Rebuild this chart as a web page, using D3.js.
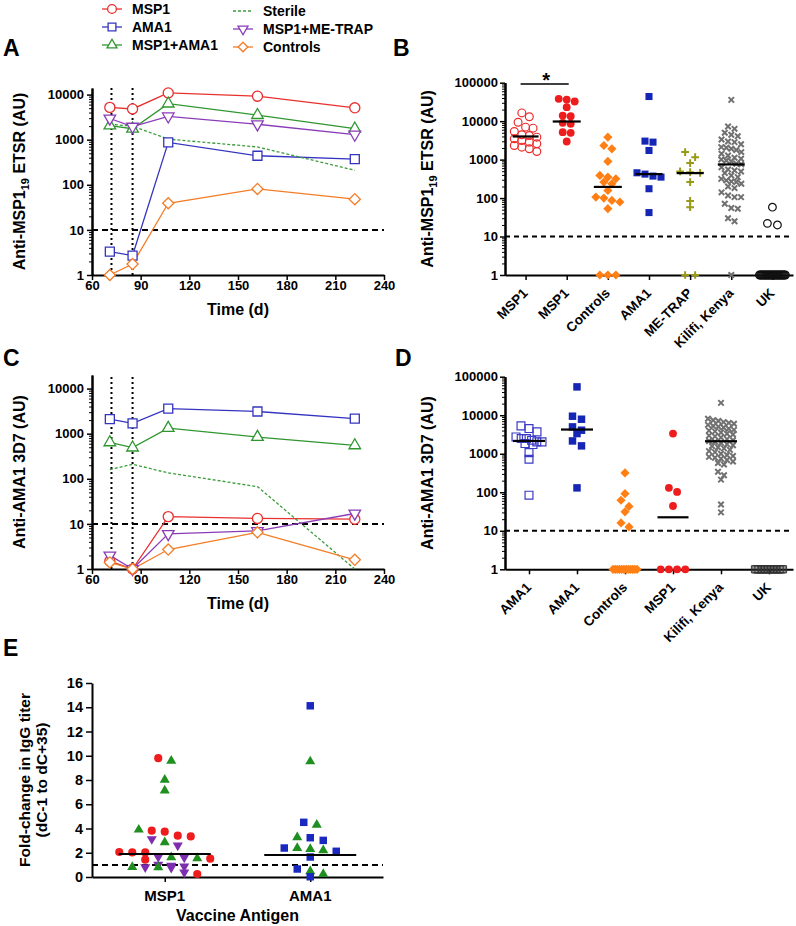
<!DOCTYPE html>
<html>
<head>
<meta charset="utf-8">
<script src="https://cdn.jsdelivr.net/npm/d3@7"></script>
<style>
body { margin: 0; background: #fff; }
svg { font-family: "Liberation Sans", Arial, Helvetica, sans-serif; font-weight: bold; }
</style>
</head>
<body>
<script>
// ---------- data ----------
const days = [71, 85, 107, 162, 222];
const challengeDays = [72, 85];
const courseNames = ["MSP1", "AMA1", "MSP1+AMA1", "Sterile", "MSP1+ME-TRAP", "Controls"];
const cutoffAU = 10;
const cutoffFold = 1;

// A: anti-MSP1-19 ETSR over time (AU)
const aMSP1 = [5200, 4800, 10900, 9200, 5100];
const aAMA1 = [3.3, 2.7, 870, 440, 370];
const aMSP1AMA1 = [2050, 1750, 6300, 3500, 1750];
const aSterile = [2200, 2000, 1030, 690, 210];
const aMETRAP = [2950, 1950, 3300, 2200, 1300];
const aControls = [1, 1.75, 39, 81, 48];

// C: anti-AMA1 3D7 over time (AU)
const cMSP1 = [1.5, 1, 14.5, 13.2, 12.7];
const cAMA1 = [2100, 1700, 3600, 3100, 2150];
const cMSP1AMA1 = [640, 490, 1330, 840, 550];
const cSterile = [160, 210, 135, 67, 1];
const cMETRAP = [2.0, 1, 6.0, 7.0, 17];
const cControls = [1.4, 1, 2.7, 6.5, 1.6];

// B: anti-MSP1-19 by group
const bCats = ["MSP1", "MSP1", "Controls", "AMA1", "ME-TRAP", "Kilifi, Kenya", "UK"];
const bMSP1open = [16400, 13000, 9400, 6980, 6580, 5390, 4420, 4250, 3840, 3480, 3150, 2850, 2580, 2330, 2110, 1910, 1630];
const bMSP1filled = [38000, 36500, 32400, 23100, 14000, 13500, 9060, 8530, 5180, 4980, 2960];
const bControls = [3840, 2330, 1910, 896, 388, 351, 318, 260, 236, 158, 106, 100, 87, 79, 53, 1, 1, 1];
const bAMA1 = [43700, 3030, 2850, 1730, 455, 420, 373, 351, 175, 42];
const bMETRAP = [1570, 1160, 811, 493, 470, 455, 260, 84, 58, 1, 1];
const bKilifi = [35800, 7260, 6320, 5010, 4420, 4070, 3340, 2960, 2850, 2510, 2110, 2030, 1910, 1780, 1570, 1420,
  1280, 1120, 1050, 1010, 950, 890, 780, 760, 630, 556, 524, 493, 447, 388, 351, 316, 288, 271, 261, 235, 200,
  182, 141, 117, 106, 106, 71, 55, 53, 30, 25, 1];
const bUK = [58, 22, 20, 1, 1, 1, 1, 1, 1, 1, 1, 1, 1, 1, 1, 1, 1, 1, 1, 1, 1, 1, 1, 1, 1, 1, 1, 1, 1, 1];
const bMedians = [4000, 9800, 195, 420, 446, 750, null];
const bSigPair = [0, 1];

// D: anti-AMA1 3D7 by group
const dCats = ["AMA1", "AMA1", "Controls", "MSP1", "Kilifi, Kenya", "UK"];
const dAMA1open = [5280, 4500, 3690, 2730, 2480, 2480, 2240, 2030, 2030, 1840, 1730, 1070, 720, 84];
const dAMA1filled = [54400, 9420, 7870, 4980, 4080, 3340, 2150, 1600, 130];
const dControls = [318, 92, 62, 43, 31, 16, 12.6, 1, 1, 1, 1, 1, 1, 1, 1, 1, 1, 1, 1];
const dMSP1 = [3340, 130, 102, 44, 1, 1, 1, 1];
const dKilifi = [20900, 8130, 7410, 7080, 6610, 6310, 6030, 5620, 5250, 5010, 4790, 4470, 4170, 3980, 3800, 3550,
  3310, 3160, 2950, 2820, 2630, 2400, 2240, 2140, 2040, 1910, 1780, 1660, 1580, 1480, 1380, 1260, 1170, 1100,
  1000, 930, 870, 830, 790, 740, 690, 630, 575, 525, 340, 277, 213, 48, 30];
const dUK = [1, 1, 1, 1, 1, 1, 1, 1, 1, 1, 1, 1, 1, 1, 1, 1, 1, 1, 1, 1];
const dMedians = [2150, 4250, null, 22.4, 2110, null];

// E: fold change dC-1 to dC+35
const eCats = ["MSP1", "AMA1"];
const eMSP1red = [9.8, 3.82, 3.74, 3.41, 3.35, 2.06, 2.03, 2.03, 1.51, 1.43, 0.25];
const eMSP1green = [9.59, 8.02, 7.12, 3.9, 2.86, 1.62, 1.54, 0.82, 0.8];
const eMSP1purple = [3.13, 2.61, 1.65, 1.62, 1.02, 0.93, 0.88, 0.82, 0.77, 0.38];
const eAMA1blue = [14.12, 4.51, 3.24, 3.02, 2.39, 2.12, 1.65, 0.66, 0.02];
const eAMA1green = [9.53, 4.31, 3.27, 2.39, 2.31, 2.2, 0.47, 0.25];
const eMedians = [1.9, 1.82];

// ---------- symbols ----------
const triUp = { draw(ctx, size) {
  const s = Math.sqrt(size * 4 / Math.sqrt(3)), h = s * Math.sqrt(3) / 2;
  ctx.moveTo(-s / 2, h / 3); ctx.lineTo(s / 2, h / 3); ctx.lineTo(0, -2 * h / 3); ctx.closePath(); } };
const triDown = { draw(ctx, size) {
  const s = Math.sqrt(size * 4 / Math.sqrt(3)), h = s * Math.sqrt(3) / 2;
  ctx.moveTo(-s / 2, -h / 3); ctx.lineTo(s / 2, -h / 3); ctx.lineTo(0, 2 * h / 3); ctx.closePath(); } };
const diamond = { draw(ctx, size) {
  const r = Math.sqrt(size / 2);
  ctx.moveTo(0, -r); ctx.lineTo(r, 0); ctx.lineTo(0, r); ctx.lineTo(-r, 0); ctx.closePath(); } };
const plus = { draw(ctx, size) {
  const r = Math.sqrt(size) / 2;
  ctx.moveTo(-r, 0); ctx.lineTo(r, 0); ctx.moveTo(0, -r); ctx.lineTo(0, r); } };
const times = { draw(ctx, size) {
  const r = Math.sqrt(size) / 2;
  ctx.moveTo(-r, -r); ctx.lineTo(r, r); ctx.moveTo(-r, r); ctx.lineTo(r, -r); } };

const courseStyle = {
  "MSP1": { color: "#e8302e", sym: d3.symbolCircle, size: 80 },
  "AMA1": { color: "#3434c0", sym: d3.symbolSquare, size: 81 },
  "MSP1+AMA1": { color: "#2f962f", sym: triUp, size: 58 },
  "Sterile": { color: "#3c9c3c", dash: "3,2" },
  "MSP1+ME-TRAP": { color: "#8a3cb8", sym: triDown, size: 58 },
  "Controls": { color: "#f47c26", sym: diamond, size: 62 }
};

const W = 796, H = 926;
const svg = d3.select("body").append("svg").attr("width", W).attr("height", H);

function styleAxis(g, fs) {
  g.attr("font-family", null).attr("font-size", null);
  g.selectAll("text").style("font-size", fs + "px").style("font-weight", "bold").attr("fill", "#000");
  g.selectAll(".domain").attr("stroke", "#000").attr("stroke-width", 2);
  g.selectAll(".tick line").attr("stroke", "#000").attr("stroke-width", 1.5);
}

function logAxisLeft(x0, y, majors, size, pad) {
  const [lo, hi] = y.domain();
  const minors = [];
  for (let e = 0; e <= Math.ceil(Math.log10(hi)); e++)
    for (let m = 2; m <= 9; m++) {
      const v = m * Math.pow(10, e);
      if (v > lo && v < hi) minors.push(v);
    }
  const gm = svg.append("g").attr("transform", `translate(${x0},0)`)
    .call(d3.axisLeft(y).tickValues(minors).tickSize(3).tickFormat("").tickSizeOuter(0));
  styleAxis(gm, 13);
  gm.selectAll(".tick line").attr("stroke-width", 1);
  const g = svg.append("g").attr("transform", `translate(${x0},0)`)
    .call(d3.axisLeft(y).tickValues(majors).tickSize(size).tickPadding(pad)
      .tickFormat(d3.format("d")).tickSizeOuter(0));
  styleAxis(g, 13);
}

function mark(g, px, py, st) {
  g.append("path")
    .attr("d", d3.symbol().type(st.sym).size(st.size)())
    .attr("transform", `translate(${px},${py})`)
    .attr("fill", st.fill || "none")
    .attr("stroke", st.stroke || "none")
    .attr("stroke-width", st.sw || 1.2);
}

function yLabel(x, y, parts, fs) {
  const t = svg.append("text").attr("transform", `translate(${x},${y}) rotate(-90)`)
    .attr("text-anchor", "middle").style("font-size", (fs || 16) + "px");
  parts.forEach(p => t.append("tspan").text(p.t).attr("dy", p.dy || 0)
    .style("font-size", p.fs ? p.fs + "px" : null));
}

function panelLetter(x, y, s) {
  svg.append("text").attr("x", x).attr("y", y).text(s).style("font-size", "23px");
}

// ---------- time-course panels (A, C) ----------
function coursePanel(vals, topVal, base, yTop, label) {
  const x = d3.scaleLinear().domain([60, 240]).range([92, 384]);
  const y = d3.scaleLog().domain([1, topVal]).range([base, yTop]);

  const gx = svg.append("g").attr("transform", `translate(0,${base})`)
    .call(d3.axisBottom(x).tickValues(d3.range(60, 241, 30)).tickSize(5).tickPadding(1).tickSizeOuter(0));
  styleAxis(gx, 13);
  logAxisLeft(92, y, [1, 10, 100, 1000, 10000], 5, 3);

  svg.append("text").attr("x", (92 + 384) / 2).attr("y", base + 40).attr("text-anchor", "middle")
    .style("font-size", "16px").text("Time (d)");
  yLabel(25, (base + yTop) / 2, label);

  svg.append("line").attr("x1", x(60)).attr("x2", x(240)).attr("y1", y(cutoffAU)).attr("y2", y(cutoffAU))
    .attr("stroke", "#000").attr("stroke-width", 2).attr("stroke-dasharray", "6,4");
  challengeDays.forEach(d => {
    svg.append("line").attr("x1", x(d)).attr("x2", x(d)).attr("y1", y(1)).attr("y2", yTop)
      .attr("stroke", "#000").attr("stroke-width", 2).attr("stroke-dasharray", "2,3");
  });

  const line = d3.line().x((d, i) => x(days[i])).y(d => y(d));
  const g = svg.append("g");
  courseNames.forEach((n, k) => {
    const st = courseStyle[n];
    g.append("path").attr("d", line(vals[k])).attr("fill", "none").attr("stroke", st.color)
      .attr("stroke-width", 1.3).attr("stroke-dasharray", st.dash || null);
  });
  courseNames.forEach((n, k) => {
    const st = courseStyle[n];
    if (!st.sym) return;
    vals[k].forEach((v, i) => mark(g, x(days[i]), y(v),
      { sym: st.sym, size: st.size, fill: "#fff", stroke: st.color, sw: 1.3 }));
  });
}

coursePanel([aMSP1, aAMA1, aMSP1AMA1, aSterile, aMETRAP, aControls], 14000, 275, 88,
  [{ t: "Anti-MSP1" }, { t: "19", dy: 4, fs: 11 }, { t: " ETSR (AU)", dy: -4 }]);
coursePanel([cMSP1, cAMA1, cMSP1AMA1, cSterile, cMETRAP, cControls], 20000, 569, 375,
  [{ t: "Anti-AMA1 3D7 (AU)" }]);

// legend
const legCols = [
  { names: ["MSP1", "AMA1", "MSP1+AMA1"], x: 112, ys: [9, 27, 45] },
  { names: ["Sterile", "MSP1+ME-TRAP", "Controls"], x: 243, ys: [11, 29, 47] }
];
legCols.forEach(c => c.names.forEach((n, i) => {
  const st = courseStyle[n], yy = c.ys[i];
  svg.append("line").attr("x1", c.x - 10).attr("x2", c.x + 10).attr("y1", yy).attr("y2", yy)
    .attr("stroke", st.color).attr("stroke-width", 1.3).attr("stroke-dasharray", st.dash || null);
  if (st.sym) mark(svg, c.x, yy, { sym: st.sym, size: st.size * 0.75, fill: "#fff", stroke: st.color, sw: 1.3 });
  svg.append("text").attr("x", c.x + 20).attr("y", yy).attr("dy", "0.36em").style("font-size", "14px").text(n);
}));

// ---------- scatter helper ----------
function swarm(points, y, cx, rowH, sep, maxHalf) {
  const sorted = points.slice().sort((a, b) => b.v - a.v);
  const rows = [];
  sorted.forEach(p => {
    p.py = y(p.v);
    const row = rows[rows.length - 1];
    if (row && p.py - row[0].py < rowH) row.push(p); else rows.push([p]);
  });
  rows.forEach(row => {
    const n = row.length;
    const s = n > 1 ? Math.min(sep, 2 * maxHalf / (n - 1)) : 0;
    row.forEach((p, i) => { p.px = cx + (i - (n - 1) / 2) * s; });
  });
  return sorted;
}

function groupPanel(cats, groups, styles, medians, base, yTop, label, lay) {
  const x = d3.scalePoint().domain(d3.range(cats.length)).range([505, 793]).padding(0.5);
  const y = d3.scaleLog().domain([1, 1e5]).range([base, yTop]);

  const gx = svg.append("g").attr("transform", `translate(0,${base})`)
    .call(d3.axisBottom(x).tickSize(5).tickFormat("").tickSizeOuter(0));
  styleAxis(gx, 13);
  cats.forEach((c, i) => {
    svg.append("text").attr("transform", `translate(${x(i) + 3},${base + 19}) rotate(-45)`)
      .attr("text-anchor", "end").style("font-size", "13.5px").text(c);
  });
  logAxisLeft(505, y, [1, 10, 100, 1000, 10000, 100000], 5, 2);
  yLabel(433, (base + yTop) / 2, label);

  svg.append("line").attr("x1", 505).attr("x2", 793).attr("y1", y(cutoffAU)).attr("y2", y(cutoffAU))
    .attr("stroke", "#000").attr("stroke-width", 2).attr("stroke-dasharray", "5,4");

  const g = svg.append("g");
  groups.forEach((vals, i) => {
    const st = styles[i], L = lay[i];
    const pts = swarm(vals.map(v => ({ v })), y, x(i), L[0], L[1], L[2]);
    pts.forEach(p => mark(g, p.px, p.py, st));
    if (medians[i] != null) {
      g.append("line").attr("x1", x(i) - L[3]).attr("x2", x(i) + L[3])
        .attr("y1", y(medians[i])).attr("y2", y(medians[i]))
        .attr("stroke", "#000").attr("stroke-width", 2.2);
    }
  });
  return { x, y };
}

// ---------- B ----------
const bStyles = [
  { sym: d3.symbolCircle, size: 48, stroke: "#ee2b2b", sw: 1.2 },
  { sym: d3.symbolCircle, size: 48, fill: "#ee1c1c" },
  { sym: diamond, size: 42, fill: "#ff7f14" },
  { sym: d3.symbolSquare, size: 50, fill: "#1626b4" },
  { sym: plus, size: 60, stroke: "#999918", sw: 2 },
  { sym: times, size: 30, stroke: "#707070", sw: 2 },
  { sym: d3.symbolCircle, size: 46, stroke: "#111", sw: 1.2 }
];
const bLay = [[6.5, 7.5, 12, 13], [6.5, 8, 12, 14], [6.5, 8, 12, 14], [6.5, 8, 12, 13.5],
  [6, 10, 12, 13.5], [5.5, 6.5, 10, 13.5], [6, 10, 13, 13]];
const bAx = groupPanel(bCats, [bMSP1open, bMSP1filled, bControls, bAMA1, bMETRAP, bKilifi, bUK],
  bStyles, bMedians, 275, 82.7,
  [{ t: "Anti-MSP1" }, { t: "19", dy: 4, fs: 11 }, { t: " ETSR (AU)", dy: -4 }], bLay);
svg.append("line").attr("x1", bAx.x(bSigPair[0]) - 5).attr("x2", bAx.x(bSigPair[1]) + 2)
  .attr("y1", 84).attr("y2", 84).attr("stroke", "#000").attr("stroke-width", 1.5);
svg.append("text").attr("x", (bAx.x(bSigPair[0]) + bAx.x(bSigPair[1])) / 2).attr("y", 87)
  .attr("text-anchor", "middle").style("font-size", "20px").text("*");

// ---------- D ----------
const dStyles = [
  { sym: d3.symbolSquare, size: 62, stroke: "#3a3ac4", sw: 1.2 },
  { sym: d3.symbolSquare, size: 56, fill: "#1626b4" },
  { sym: diamond, size: 42, fill: "#ff7f14" },
  { sym: d3.symbolCircle, size: 48, fill: "#ee1c1c" },
  { sym: times, size: 30, stroke: "#707070", sw: 2 },
  { sym: d3.symbolSquare, size: 52, stroke: "#333", sw: 1 }
];
const dLay = [[6.5, 8, 13, 16], [6.5, 9, 13, 16], [6.5, 8, 12, 16], [6.5, 8.2, 13, 15.5],
  [5, 6, 13, 16], [6, 10, 14, 16]];
groupPanel(dCats, [dAMA1open, dAMA1filled, dControls, dMSP1, dKilifi, dUK],
  dStyles, dMedians, 569.3, 376.7, [{ t: "Anti-AMA1 3D7 (AU)" }], dLay);

// ---------- E ----------
(function () {
  const x = d3.scalePoint().domain(eCats).range([92, 383]).padding(0.5);
  const y = d3.scaleLinear().domain([0, 16]).range([877, 683]);
  const gx = svg.append("g").attr("transform", "translate(0,877)")
    .call(d3.axisBottom(x).tickSize(5).tickFormat("").tickSizeOuter(0));
  styleAxis(gx, 14);
  eCats.forEach(c => svg.append("text").attr("x", x(c)).attr("y", 901).attr("text-anchor", "middle")
    .style("font-size", "15px").text(c));
  const gy = svg.append("g").attr("transform", "translate(92,0)")
    .call(d3.axisLeft(y).tickValues(d3.range(0, 17, 2)).tickSize(6).tickPadding(3).tickSizeOuter(0));
  styleAxis(gy, 14.5);
  svg.append("text").attr("x", (92 + 383) / 2).attr("y", 921).attr("text-anchor", "middle")
    .style("font-size", "16px").text("Vaccine Antigen");
  yLabel(30, 780, [{ t: "Fold-change in IgG titer" }], 15.5);
  yLabel(47, 780, [{ t: "(dC-1 to dC+35)" }], 15.5);

  svg.append("line").attr("x1", 92).attr("x2", 383).attr("y1", y(cutoffFold)).attr("y2", y(cutoffFold))
    .attr("stroke", "#000").attr("stroke-width", 2).attr("stroke-dasharray", "6,4");

  const red = { sym: d3.symbolCircle, size: 52, fill: "#ee1c1c" };
  const green = { sym: triUp, size: 44, fill: "#1f8f1f" };
  const purple = { sym: triDown, size: 44, fill: "#7d2eae" };
  const blue = { sym: d3.symbolSquare, size: 56, fill: "#1a28c0" };
  const groups = [
    [[eMSP1red, red], [eMSP1green, green], [eMSP1purple, purple]],
    [[eAMA1blue, blue], [eAMA1green, green]]
  ];
  const g = svg.append("g");
  groups.forEach((sets, i) => {
    const pts = [];
    sets.forEach(([vals, st]) => vals.forEach(v => pts.push({ v, st })));
    swarm(pts, y, x(eCats[i]), 7, 13, 48).forEach(p => mark(g, p.px, p.py, p.st));
    g.append("line").attr("x1", x(eCats[i]) - 46).attr("x2", x(eCats[i]) + 46)
      .attr("y1", y(eMedians[i])).attr("y2", y(eMedians[i])).attr("stroke", "#000").attr("stroke-width", 2);
  });
})();

panelLetter(3, 56, "A");
panelLetter(393, 56, "B");
panelLetter(3, 366, "C");
panelLetter(395, 366, "D");
panelLetter(3, 656, "E");
</script>
</body>
</html>
